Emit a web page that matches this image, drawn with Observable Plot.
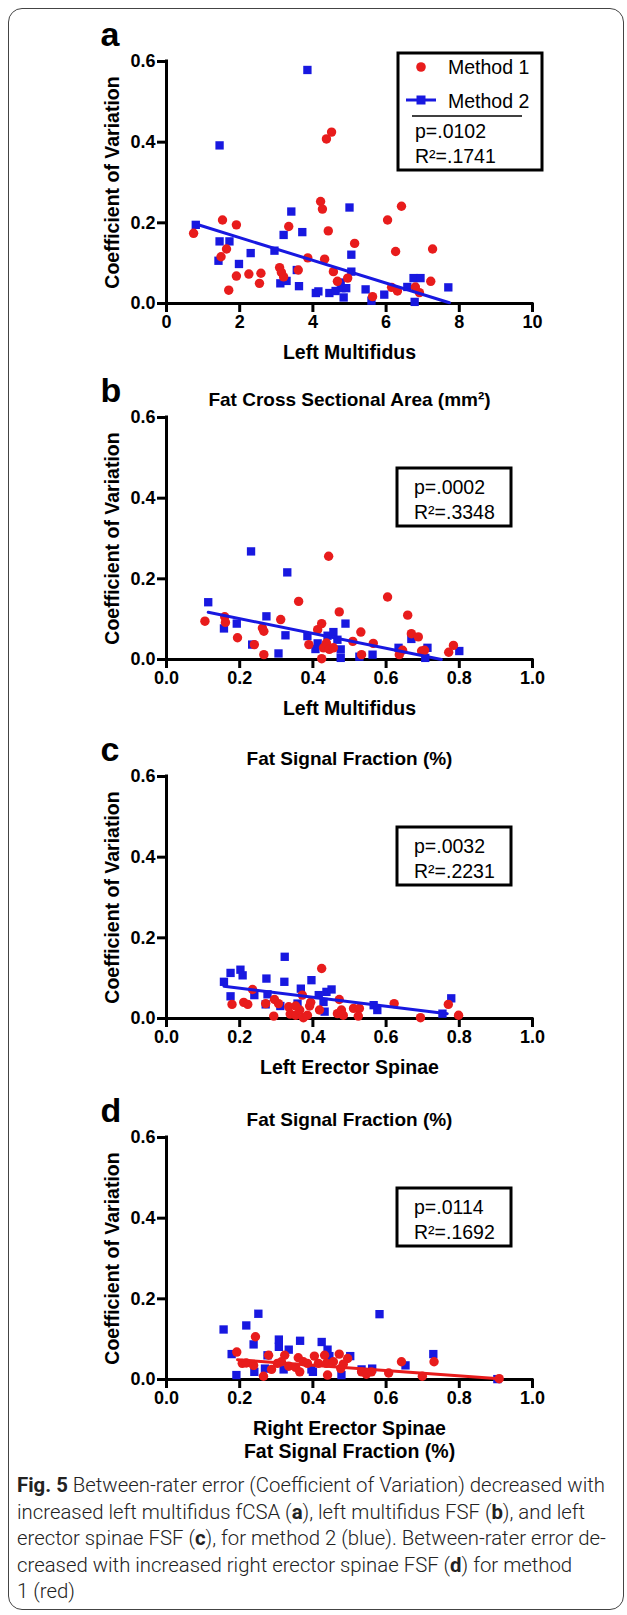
<!DOCTYPE html>
<html><head><meta charset="utf-8">
<script src="https://cdn.jsdelivr.net/npm/d3@7"></script>
<script src="https://cdn.jsdelivr.net/npm/@observablehq/plot@0.6"></script>
<style>
body{margin:0;background:#fff;}
#wrap{position:relative;width:627px;height:1615px;overflow:hidden;background:#fff;}
#border{position:absolute;left:8px;top:8px;width:616px;height:1602px;border:1.5px solid #444;border-radius:14px;box-sizing:border-box;}
.panel{position:absolute;left:0;}
.panel svg{overflow:visible;}
#caption{position:absolute;left:17px;top:1472px;font-family:Roboto,"Open Sans",sans-serif;font-weight:300;font-size:20px;line-height:26.5px;color:#222;white-space:nowrap;transform-origin:0 0;}
#caption b{font-weight:700;}
</style></head><body>
<div id="wrap"><div id="border"></div><div id="caption"></div></div>
<script>
// ---------- data ----------
const yTicks = [0, 0.2, 0.4, 0.6];
const aTicks = [0, 2, 4, 6, 8, 10];
const fracTicks = [0, 0.2, 0.4, 0.6, 0.8, 1.0];

// Panel a: Left Multifidus fCSA
const aM1x = [0.74,1.53,1.49,1.64,1.70,1.91,1.91,2.25,2.54,2.58,3.09,3.14,3.20,3.34,3.60,3.86,4.21,4.26,4.32,4.37,4.51,4.42,4.56,4.67,4.95,5.14,5.63,6.04,6.15,6.26,6.31,6.42,6.80,6.91,7.22,7.27];
const aM1y = [0.174,0.207,0.116,0.135,0.033,0.195,0.068,0.073,0.050,0.075,0.089,0.077,0.066,0.191,0.083,0.113,0.253,0.234,0.110,0.408,0.425,0.180,0.079,0.055,0.063,0.149,0.017,0.207,0.040,0.129,0.031,0.241,0.041,0.027,0.055,0.135];
const aM2x = [0.80,1.45,3.85,1.45,1.72,1.42,1.98,2.30,2.95,3.20,3.41,3.71,3.11,3.28,3.56,3.62,4.08,4.15,4.45,4.62,4.78,4.84,4.91,5.00,5.05,5.05,5.44,5.60,5.95,6.58,6.75,6.94,6.78,7.70,4.76];
const aM2y = [0.195,0.392,0.579,0.154,0.154,0.106,0.098,0.125,0.131,0.170,0.228,0.177,0.050,0.056,0.083,0.043,0.026,0.030,0.026,0.031,0.038,0.015,0.038,0.238,0.121,0.079,0.035,0.007,0.022,0.041,0.063,0.063,0.004,0.040,0.052];
const aFitX = [0.80, 7.73];
const aFitY = [0.197, 0.002];

// Panel b: Left Multifidus FSF
const bM1x = [0.105,0.159,0.161,0.194,0.240,0.262,0.266,0.266,0.312,0.361,0.389,0.413,0.424,0.424,0.429,0.437,0.443,0.445,0.456,0.472,0.509,0.531,0.533,0.565,0.604,0.636,0.645,0.659,0.669,0.688,0.697,0.771,0.784,0.705];
const bM1y = [0.095,0.106,0.092,0.054,0.037,0.078,0.070,0.012,0.099,0.144,0.037,0.074,0.089,0.002,0.029,0.041,0.256,0.025,0.029,0.118,0.045,0.068,0.012,0.040,0.155,0.012,0.023,0.110,0.064,0.056,0.021,0.018,0.035,0.023];
const bM2x = [0.114,0.231,0.330,0.157,0.192,0.234,0.273,0.306,0.325,0.385,0.407,0.413,0.440,0.456,0.476,0.476,0.489,0.527,0.563,0.634,0.669,0.707,0.713,0.800,0.467];
const bM2y = [0.142,0.268,0.216,0.077,0.089,0.037,0.107,0.015,0.060,0.058,0.026,0.040,0.059,0.068,0.025,0.004,0.089,0.007,0.012,0.029,0.051,0.004,0.029,0.021,0.049];
const bFitX = [0.114, 0.751];
const bFitY = [0.117, 0.0];

// Panel c: Left Erector Spinae FSF
const cM1x = [0.179,0.211,0.222,0.235,0.271,0.293,0.295,0.306,0.334,0.338,0.353,0.364,0.371,0.374,0.385,0.391,0.394,0.418,0.424,0.467,0.472,0.478,0.483,0.511,0.524,0.527,0.622,0.694,0.770,0.798,0.353];
const cM1y = [0.035,0.040,0.035,0.072,0.037,0.006,0.047,0.037,0.029,0.011,0.008,0.021,0.058,0.002,0.008,0.031,0.040,0.021,0.124,0.012,0.047,0.021,0.008,0.025,0.006,0.025,0.037,0.002,0.035,0.008,0.031];
const cM2x = [0.157,0.175,0.202,0.208,0.175,0.240,0.273,0.271,0.311,0.323,0.322,0.367,0.396,0.358,0.416,0.429,0.437,0.451,0.432,0.566,0.576,0.754,0.778,0.276];
const cM2y = [0.091,0.113,0.121,0.107,0.055,0.058,0.099,0.035,0.031,0.153,0.091,0.074,0.095,0.037,0.058,0.041,0.066,0.072,0.017,0.033,0.021,0.012,0.050,0.060];
const cFitX = [0.157, 0.767];
const cFitY = [0.080, 0.012];

// Panel d: Right Erector Spinae FSF
const dM1x = [0.192,0.207,0.218,0.243,0.238,0.265,0.279,0.287,0.303,0.323,0.334,0.353,0.360,0.364,0.374,0.385,0.404,0.415,0.432,0.440,0.437,0.456,0.472,0.476,0.495,0.483,0.533,0.546,0.560,0.607,0.642,0.699,0.731,0.909,0.314];
const dM1y = [0.068,0.040,0.041,0.106,0.035,0.008,0.060,0.025,0.040,0.060,0.033,0.030,0.054,0.019,0.044,0.040,0.058,0.040,0.060,0.011,0.040,0.044,0.063,0.027,0.052,0.038,0.019,0.013,0.019,0.016,0.044,0.008,0.044,0.002,0.044];
const dM2x = [0.156,0.218,0.251,0.178,0.191,0.238,0.240,0.269,0.276,0.307,0.307,0.334,0.320,0.365,0.396,0.424,0.440,0.445,0.478,0.502,0.533,0.562,0.582,0.653,0.729,0.904,0.400];
const dM2y = [0.124,0.134,0.163,0.063,0.011,0.087,0.019,0.027,0.060,0.099,0.081,0.074,0.025,0.096,0.025,0.093,0.074,0.058,0.011,0.058,0.025,0.027,0.162,0.035,0.063,0.001,0.019];
const dFitX = [0.194, 0.909];
const dFitY = [0.049, 0.002];

// ---------- styling ----------
const RED = "#e81c1c", BLUE = "#1818e0";
const FONT = "'Liberation Sans', Arial, Helvetica, sans-serif";
const zip = (xs, ys) => xs.map((x, i) => ({x, y: ys[i]}));

function panel(o) {
  const height = o.marginTop + 242 + o.marginBottom;
  const marks = [
    Plot.axisX({ticks: o.xTicks, tickFormat: o.xFormat, tickSize: 9, tickPadding: 3, strokeWidth: 3, fontSize: 18, label: null}),
    Plot.axisY({ticks: yTicks, tickFormat: d3.format(".1f"), tickSize: 9, tickPadding: 2, strokeWidth: 3, fontSize: 18, label: null}),
    Plot.ruleY([0], {strokeWidth: 3, strokeLinecap: "square"}),
    Plot.ruleX([0], {strokeWidth: 3, strokeLinecap: "square"}),
    Plot.dot(zip(o.m2x, o.m2y), {x: "x", y: "y", symbol: "square", fill: BLUE, r: 4.7}),
    Plot.dot(zip(o.m1x, o.m1y), {x: "x", y: "y", fill: RED, r: 4.7}),
    Plot.line(zip(o.fitX, o.fitY), {x: "x", y: "y", stroke: o.fitColor, strokeWidth: 3}),
    Plot.text([o.letter], {frameAnchor: "top-left", dx: -66, dy: -16, fontSize: 34, textAnchor: "start", lineAnchor: "bottom"}),
    Plot.text(["Coefficient of Variation"], {frameAnchor: "left", rotate: -90, dx: -54, fontSize: 19.5, textAnchor: "middle", lineAnchor: "middle"})
  ];
  if (o.title) marks.push(Plot.text([o.title], {frameAnchor: "top", dy: -12, fontSize: 19, textAnchor: "middle", lineAnchor: "bottom"}));
  o.xLabels.forEach((t, i) => marks.push(Plot.text([t], {frameAnchor: "bottom", dy: 49 + 23 * i, fontSize: 19.5, textAnchor: "middle", lineAnchor: "middle"})));
  const chart = Plot.plot({
    width: 627, height,
    marginLeft: 166, marginRight: 95, marginTop: o.marginTop, marginBottom: o.marginBottom,
    style: {fontFamily: FONT, fontSize: "18px", fontWeight: "bold", color: "#000", background: "transparent", overflow: "visible"},
    x: {domain: o.xDomain},
    y: {domain: [0, 0.6]},
    marks
  });
  const div = document.createElement("div");
  div.className = "panel";
  div.style.top = o.top + "px";
  div.appendChild(chart);
  document.getElementById("wrap").appendChild(div);

  const svg = d3.select(chart);
  const g = svg.append("g").attr("font-family", FONT).attr("font-weight", "normal").attr("font-size", 19.5)
    .attr("fill", "#000").attr("text-anchor", "start");
  const ft = o.marginTop;
  if (o.legend) {
    g.append("rect").attr("x", 398).attr("y", 53).attr("width", 144).attr("height", 117).attr("fill", "#fff").attr("stroke", "#000").attr("stroke-width", 3);
    g.append("circle").attr("cx", 421).attr("cy", 67).attr("r", 4.8).attr("fill", RED);
    g.append("text").attr("x", 448).attr("y", 74).text(o.legend[0]);
    g.append("line").attr("x1", 406).attr("x2", 436).attr("y1", 100).attr("y2", 100).attr("stroke", BLUE).attr("stroke-width", 3);
    g.append("rect").attr("x", 416.5).attr("y", 95.5).attr("width", 9).attr("height", 9).attr("fill", BLUE);
    g.append("text").attr("x", 448).attr("y", 108).text(o.legend[1]);
    g.append("line").attr("x1", 412).attr("x2", 522).attr("y1", 116).attr("y2", 116).attr("stroke", "#000").attr("stroke-width", 1.5);
    g.append("text").attr("x", 415).attr("y", 138).text(o.stats[0]);
    g.append("text").attr("x", 415).attr("y", 163).text(o.stats[1]);
  } else {
    g.append("rect").attr("x", 397).attr("y", ft + 51).attr("width", 114).attr("height", 58).attr("fill", "#fff").attr("stroke", "#000").attr("stroke-width", 3);
    g.append("text").attr("x", 414).attr("y", ft + 77).text(o.stats[0]);
    g.append("text").attr("x", 414).attr("y", ft + 102).text(o.stats[1]);
  }
}

const f1 = d3.format(".1f"), f0 = d3.format("d");

panel({top: 0, marginTop: 61, marginBottom: 62, xDomain: [0, 10], xTicks: aTicks, xFormat: f0,
  m1x: aM1x, m1y: aM1y, m2x: aM2x, m2y: aM2y, fitX: aFitX, fitY: aFitY, fitColor: BLUE,
  letter: "a", title: null, xLabels: ["Left Multifidus"],
  legend: ["Method 1", "Method 2"], stats: ["p=.0102", "R²=.1741"]});

panel({top: 365, marginTop: 52, marginBottom: 61, xDomain: [0, 1], xTicks: fracTicks, xFormat: f1,
  m1x: bM1x, m1y: bM1y, m2x: bM2x, m2y: bM2y, fitX: bFitX, fitY: bFitY, fitColor: BLUE,
  letter: "b", title: "Fat Cross Sectional Area (mm²)", xLabels: ["Left Multifidus"],
  stats: ["p=.0002", "R²=.3348"]});

panel({top: 720, marginTop: 56, marginBottom: 62, xDomain: [0, 1], xTicks: fracTicks, xFormat: f1,
  m1x: cM1x, m1y: cM1y, m2x: cM2x, m2y: cM2y, fitX: cFitX, fitY: cFitY, fitColor: BLUE,
  letter: "c", title: "Fat Signal Fraction (%)", xLabels: ["Left Erector Spinae"],
  stats: ["p=.0032", "R²=.2231"]});

panel({top: 1080, marginTop: 57, marginBottom: 90, xDomain: [0, 1], xTicks: fracTicks, xFormat: f1,
  m1x: dM1x, m1y: dM1y, m2x: dM2x, m2y: dM2y, fitX: dFitX, fitY: dFitY, fitColor: RED,
  letter: "d", title: "Fat Signal Fraction (%)", xLabels: ["Right Erector Spinae", "Fat Signal Fraction (%)"],
  stats: ["p=.0114", "R²=.1692"]});

// ---------- caption ----------
const captionLines = [
  "<b>Fig. 5</b> Between-rater error (Coefficient of Variation) decreased with",
  "increased left multifidus fCSA (<b>a</b>), left multifidus FSF (<b>b</b>), and left",
  "erector spinae FSF (<b>c</b>), for method 2 (blue). Between-rater error de-",
  "creased with increased right erector spinae FSF (<b>d</b>) for method",
  "1 (red)"
];
const cap = document.getElementById("caption");
cap.innerHTML = captionLines.map((l, i) => `<div><span${i === 0 ? ' id="l1"' : ''}>${l}</span></div>`).join("");
function fitCaption() {
  const w = document.getElementById("l1").getBoundingClientRect().width / (cap._s || 1);
  const s = 588 / w;
  cap._s = s;
  cap.style.transform = `scaleX(${s})`;
}
fitCaption();
if (document.fonts) document.fonts.ready.then(fitCaption);
</script>
</body></html>
